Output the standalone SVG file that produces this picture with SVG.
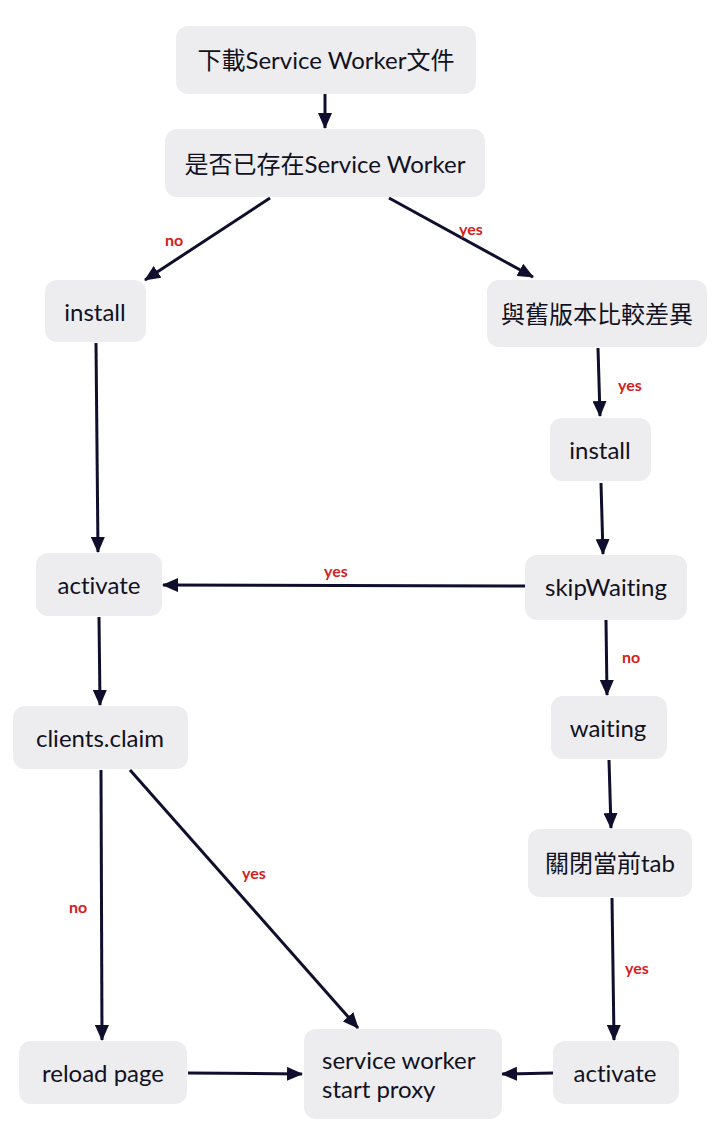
<svg xmlns="http://www.w3.org/2000/svg" width="720" height="1140" viewBox="0 0 720 1140">
<defs>
<style>
.box{fill:#ededef;}
.t{font-family:Lato,"Noto Sans CJK TC",sans-serif;font-size:24px;fill:#111122;text-anchor:middle;dominant-baseline:central;font-variant-ligatures:none;}
.tl{font-family:Lato,"Noto Sans CJK TC",sans-serif;font-size:24px;fill:#111122;font-variant-ligatures:none;}
.lbl{font-family:Lato,"Noto Sans",sans-serif;font-size:16px;font-weight:bold;fill:#d42020;text-anchor:middle;dominant-baseline:central;}
.e{stroke:#0f0f2d;stroke-width:3;fill:none;marker-end:url(#ah);}
</style>
<marker id="ah" markerUnits="userSpaceOnUse" markerWidth="16" markerHeight="14" refX="15" refY="7" orient="auto">
<path d="M0,0 L16,7 L0,14 Z" fill="#0f0f2d"/>
</marker>
</defs>
<rect width="720" height="1140" fill="#ffffff"/>
<g id="connectors">
<line class="e" x1="325" y1="94" x2="325" y2="128"/>
<line class="e" x1="270" y1="198" x2="145" y2="280"/>
<line class="e" x1="389" y1="198" x2="533" y2="277"/>
<line class="e" x1="598" y1="348" x2="600" y2="416"/>
<line class="e" x1="601" y1="483" x2="603" y2="554"/>
<line class="e" x1="525" y1="586" x2="163" y2="585"/>
<line class="e" x1="96" y1="343" x2="98" y2="552"/>
<line class="e" x1="99" y1="617" x2="100" y2="705"/>
<line class="e" x1="606" y1="620" x2="607" y2="695"/>
<line class="e" x1="609" y1="760" x2="611" y2="828"/>
<line class="e" x1="612" y1="898" x2="614" y2="1040"/>
<line class="e" x1="553" y1="1073" x2="502" y2="1074"/>
<line class="e" x1="188" y1="1073" x2="302" y2="1074"/>
<line class="e" x1="101" y1="770" x2="102" y2="1040"/>
<line class="e" x1="130" y1="770" x2="358" y2="1028"/>
<text class="lbl" x="174" y="239">no</text>
<text class="lbl" x="471" y="228">yes</text>
<text class="lbl" x="630" y="384">yes</text>
<text class="lbl" x="336" y="570">yes</text>
<text class="lbl" x="631" y="656">no</text>
<text class="lbl" x="637" y="967">yes</text>
<text class="lbl" x="78" y="906">no</text>
<text class="lbl" x="254" y="872">yes</text>
</g>
<g id="n1"><rect class="box" x="176" y="26" width="300" height="68" rx="12"/><text class="t" x="326" y="59">下載Service Worker文件</text></g>
<g id="n2"><rect class="box" x="165" y="129" width="320" height="68" rx="12"/><text class="t" x="325" y="163">是否已存在Service Worker</text></g>
<g id="n3"><rect class="box" x="45" y="280" width="101" height="62" rx="12"/><text class="t" x="95" y="311">install</text></g>
<g id="n4"><rect class="box" x="487" y="280" width="220" height="67" rx="12"/><text class="t" x="597" y="313">與舊版本比較差異</text></g>
<g id="n5"><rect class="box" x="550" y="418" width="101" height="63" rx="12"/><text class="t" x="600" y="449">install</text></g>
<g id="n6"><rect class="box" x="525" y="555" width="162" height="65" rx="12"/><text class="t" x="606" y="586">skipWaiting</text></g>
<g id="n7"><rect class="box" x="36" y="553" width="126" height="63" rx="12"/><text class="t" x="99" y="584">activate</text></g>
<g id="n8"><rect class="box" x="13" y="706" width="175" height="63" rx="12"/><text class="t" x="100" y="737">clients.claim</text></g>
<g id="n9"><rect class="box" x="551" y="696" width="116" height="63" rx="12"/><text class="t" x="608" y="727">waiting</text></g>
<g id="n10"><rect class="box" x="528" y="829" width="164" height="68" rx="12"/><text class="t" x="610" y="862">關閉當前tab</text></g>
<g id="n11"><rect class="box" x="553" y="1041" width="126" height="63" rx="12"/><text class="t" x="615" y="1072">activate</text></g>
<g id="n12"><rect class="box" x="304" y="1029" width="198" height="90" rx="12"/><text class="tl" x="322" y="1069">service worker</text><text class="tl" x="322" y="1098">start proxy</text></g>
<g id="n13"><rect class="box" x="19" y="1041" width="168" height="63" rx="12"/><text class="t" x="103" y="1072">reload page</text></g>
</svg>
